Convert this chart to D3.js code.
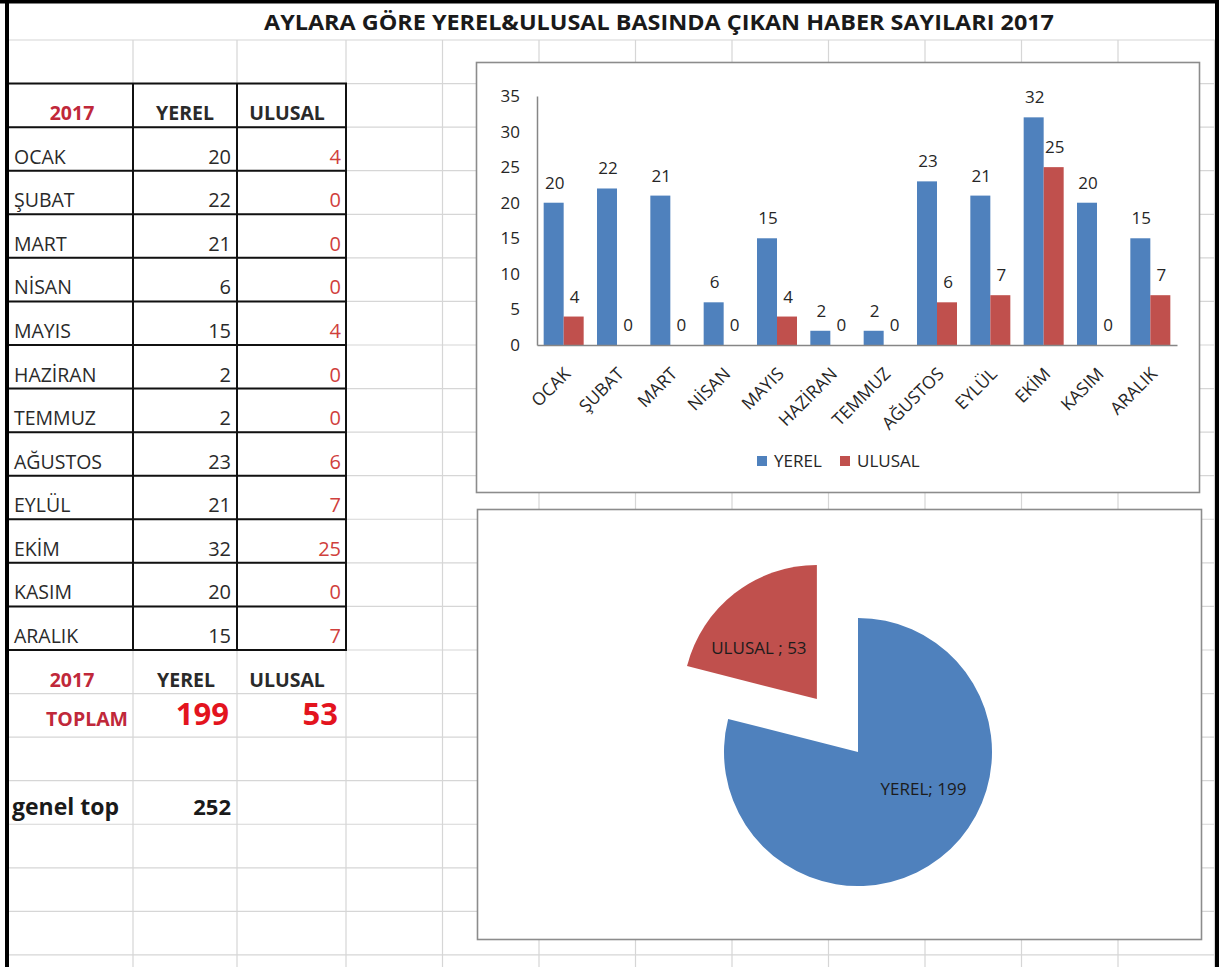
<!DOCTYPE html>
<html><head><meta charset="utf-8">
<script src="https://cdn.jsdelivr.net/npm/d3@7"></script>
<style>body{margin:0;background:#fff;} svg{display:block;font-family:"Open Sans",sans-serif;}</style>
</head><body><svg id="c" width="1226" height="967"></svg>
<script>
// ---- data ----
const title = "AYLARA GÖRE YEREL&ULUSAL BASINDA ÇIKAN HABER SAYILARI 2017";
const yearLabel = "2017";
const months = ["OCAK","ŞUBAT","MART","NİSAN","MAYIS","HAZİRAN","TEMMUZ","AĞUSTOS","EYLÜL","EKİM","KASIM","ARALIK"];
const seriesNames = ["YEREL","ULUSAL"];
const yerel = [20,22,21,6,15,2,2,23,21,32,20,15];
const ulusal = [4,0,0,0,4,0,0,6,7,25,0,7];
const yTicks = [0,5,10,15,20,25,30,35];
const totalLabel = "TOPLAM";
const grandLabel = "genel top";
const seriesColors = ["#4F81BD","#C0504D"];

const totals = [d3.sum(yerel), d3.sum(ulusal)];
const grand = d3.sum(totals);

const W = 1226, H = 967;
const svg = d3.select("#c");
svg.append("rect").attr("width",W).attr("height",H).attr("fill","#fff");

// ---- sheet grid ----
const rowH = 43.57, row0 = 40;
const rows = d3.range(0,22).map(k => row0 + k*rowH);
const colX = [133,237,346].concat(d3.range(0,9).map(i => 442.5 + i*96.5));
const grid = svg.append("g").attr("stroke","#d6d6d6").attr("stroke-width",1.2);
rows.forEach(y => grid.append("line").attr("x1",7).attr("x2",1215).attr("y1",y).attr("y2",y));
colX.forEach(x => grid.append("line").attr("x1",x).attr("x2",x).attr("y1",40).attr("y2",H));

// ---- table borders ----
const tb = svg.append("g").attr("stroke","#111").attr("stroke-width",2);
d3.range(1,15).forEach(k => tb.append("line").attr("x1",7).attr("x2",347).attr("y1",rows[k]).attr("y2",rows[k]));
[133,237,346].forEach(x => tb.append("line").attr("x1",x).attr("x2",x).attr("y1",rows[1]).attr("y2",rows[14]));

// sheet border
svg.append("rect").attr("x",0).attr("y",0).attr("width",1219).attr("height",3.5).attr("fill","#000");
svg.append("rect").attr("x",5).attr("y",0).attr("width",4).attr("height",H).attr("fill","#000");
svg.append("rect").attr("x",1215).attr("y",0).attr("width",4).attr("height",H).attr("fill","#000");

// ---- title ----
svg.append("text").attr("x",659).attr("y",30).attr("text-anchor","middle")
  .attr("font-weight",700).attr("font-size",21).attr("fill","#1a1a1a")
  .attr("textLength",790).attr("lengthAdjust","spacingAndGlyphs").text(title);

// ---- table text ----
function txt(x, y, s, o) {
  o = o || {};
  return svg.append("text").attr("x",x).attr("y",y)
    .attr("text-anchor",o.anchor || "start")
    .attr("font-size",o.size || 19)
    .attr("font-weight",o.weight || 400)
    .attr("fill",o.fill || "#2a2a2a").text(s);
}
const darkRed = "#c0283a", valRed = "#d0403c", brightRed = "#e3141e";
txt(72, rows[2]-7, yearLabel, {anchor:"middle", weight:700, fill:darkRed, size:19.5});
txt(185, rows[2]-7, seriesNames[0], {anchor:"middle", weight:700, size:19.5});
txt(287, rows[2]-7, seriesNames[1], {anchor:"middle", weight:700, size:19.5});
months.forEach((m,i) => {
  const yb = rows[i+3]-7;
  txt(14, yb, m, {size:19.5});
  txt(231, yb, yerel[i], {anchor:"end", size:20});
  txt(341, yb, ulusal[i], {anchor:"end", size:20, fill:valRed});
});
txt(72, rows[15]-7, yearLabel, {anchor:"middle", weight:700, fill:darkRed, size:19.5});
txt(186, rows[15]-7, seriesNames[0], {anchor:"middle", weight:700, size:19.5});
txt(287, rows[15]-7, seriesNames[1], {anchor:"middle", weight:700, size:19.5});
txt(128, rows[16]-11, totalLabel, {anchor:"end", weight:700, fill:darkRed, size:19.5});
txt(229, rows[16]-12, totals[0], {anchor:"end", weight:700, fill:brightRed, size:31});
txt(338, rows[16]-12, totals[1], {anchor:"end", weight:700, fill:brightRed, size:31});
txt(12, rows[18]-9, grandLabel, {weight:700, size:23, fill:"#1a1a1a"});
txt(231, rows[18]-9, grand, {anchor:"end", weight:700, size:22, fill:"#1a1a1a"});

// ---- bar chart ----
svg.append("rect").attr("x",476.5).attr("y",62.5).attr("width",723).attr("height",430)
  .attr("fill","#fff").attr("stroke","#8c8c8c").attr("stroke-width",1.6);
const x0 = d3.scaleBand().domain(months).range([537,1177]).paddingInner(0.25).paddingOuter(0.125);
const x1 = d3.scaleBand().domain(seriesNames).range([0,x0.bandwidth()]);
const y = d3.scaleLinear().domain([0,35]).range([345,96]);
const col = d3.scaleOrdinal().domain(seriesNames).range(seriesColors);
const data = months.map((m,i) => ({m, vals:[{k:"YEREL",v:yerel[i]},{k:"ULUSAL",v:ulusal[i]}]}));

const yAx = svg.append("g").attr("transform","translate(537,0)")
  .call(d3.axisLeft(y).tickValues(yTicks).tickSize(0).tickPadding(17));
yAx.select(".domain").attr("stroke","#868686").attr("stroke-width",1.5);
yAx.selectAll("text").attr("font-family","Open Sans").attr("font-size",17).attr("fill","#262626");

const g = svg.append("g");
const grp = g.selectAll("g.m").data(data).join("g").attr("transform", d => `translate(${x0(d.m)},0)`);
grp.selectAll("rect").data(d => d.vals).join("rect")
  .attr("x", d => x1(d.k)).attr("width", x1.bandwidth())
  .attr("y", d => y(d.v)).attr("height", d => y(0) - y(d.v))
  .attr("fill", d => col(d.k));
grp.selectAll("text").data(d => d.vals).join("text")
  .attr("x", d => x1(d.k) + x1.bandwidth()/2 + 1).attr("y", d => y(d.v) - 14)
  .attr("text-anchor","middle").attr("font-size",17).attr("fill","#262626").text(d => d.v);

const xAx = svg.append("g").attr("transform","translate(0,345)")
  .call(d3.axisBottom(x0).tickSize(0).tickPadding(0));
xAx.select(".domain").attr("stroke","#868686").attr("stroke-width",1.5);
xAx.selectAll(".tick text").attr("font-family","Open Sans").attr("font-size",17.5).attr("fill","#262626")
  .attr("text-anchor","end").attr("dy",0).attr("y",0)
  .attr("transform","translate(8,30) rotate(-45)");

// legend
const lg = svg.append("g").attr("transform","translate(757,456)");
const lx = [0, 83];
seriesNames.forEach((s,i) => {
  lg.append("rect").attr("x",lx[i]).attr("y",0).attr("width",10).attr("height",10).attr("fill",seriesColors[i]);
  lg.append("text").attr("x",lx[i]+17).attr("y",11).attr("font-size",17).attr("fill","#262626").text(s);
});

// ---- pie chart ----
svg.append("rect").attr("x",477.5).attr("y",509.5).attr("width",724).attr("height",430)
  .attr("fill","#fff").attr("stroke","#8c8c8c").attr("stroke-width",1.6);
const pieData = d3.pie().sort(null)(totals);
const R = 134, explode = [0, 67];
const arc = d3.arc().innerRadius(0).outerRadius(R);
const pc = [858, 752];
const pg = svg.append("g").attr("transform",`translate(${pc[0]},${pc[1]})`);
const labelShift = [-23*Math.PI/180, -11*Math.PI/180], labelR = [75, 77];
const labelSep = ["; ", " ; "];
pieData.forEach((d,i) => {
  const mid = (d.startAngle + d.endAngle)/2;
  const ox = Math.sin(mid)*explode[i], oy = -Math.cos(mid)*explode[i];
  const sg = pg.append("g").attr("transform",`translate(${ox},${oy})`);
  sg.append("path").attr("d", arc(d)).attr("fill", seriesColors[i]);
  const a = mid + labelShift[i];
  sg.append("text").attr("x", Math.sin(a)*labelR[i]).attr("y", -Math.cos(a)*labelR[i] + 6)
    .attr("text-anchor","middle").attr("font-size",17).attr("fill","#1c1c1c")
    .text(seriesNames[i] + labelSep[i] + totals[i]);
});
</script></body></html>
